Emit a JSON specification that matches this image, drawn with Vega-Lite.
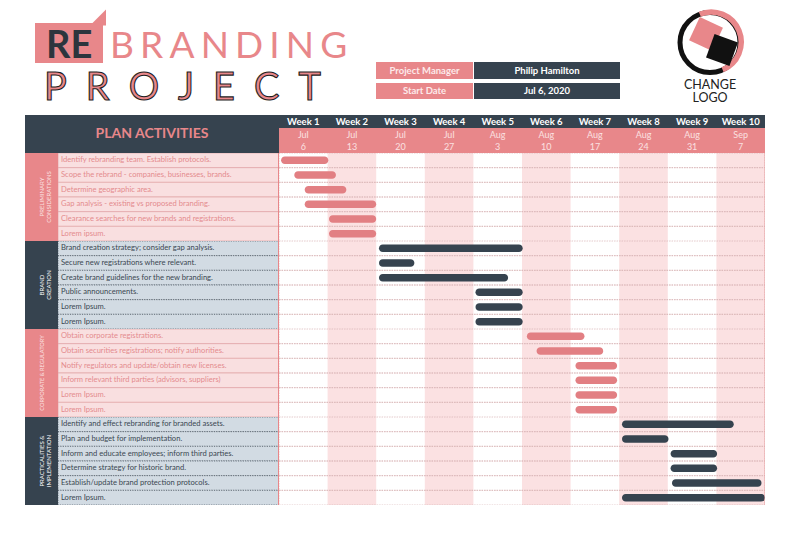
{
"$schema": "https://vega.github.io/schema/vega-lite/v6.json",
"padding": {"left": 25, "right": 25, "top": 0, "bottom": 0},
"background": "white",
"config": {"view": {"stroke": null}, "font": "Lato", "axis": {"disable": true}, "concat": {"spacing": 0}},
"datasets": {
 "tasks": [
  {"id": "01", "group": "PRELIMINARY CONSIDERATIONS", "task": "Identify rebranding team. Establish protocols.", "start": 0.3, "end": 7.1},
  {"id": "02", "group": "PRELIMINARY CONSIDERATIONS", "task": "Scope the rebrand - companies, businesses, brands.", "start": 2.2, "end": 8.2},
  {"id": "03", "group": "PRELIMINARY CONSIDERATIONS", "task": "Determine geographic area.", "start": 3.7, "end": 9.7},
  {"id": "04", "group": "PRELIMINARY CONSIDERATIONS", "task": "Gap analysis - existing vs proposed branding.", "start": 3.7, "end": 14.0},
  {"id": "05", "group": "PRELIMINARY CONSIDERATIONS", "task": "Clearance searches for new brands and registrations.", "start": 7.2, "end": 14.0},
  {"id": "06", "group": "PRELIMINARY CONSIDERATIONS", "task": "Lorem ipsum.", "start": 7.2, "end": 14.0},
  {"id": "07", "group": "BRAND CREATION", "task": "Brand creation strategy; consider gap analysis.", "start": 14.4, "end": 35.1},
  {"id": "08", "group": "BRAND CREATION", "task": "Secure new registrations where relevant.", "start": 14.4, "end": 19.5},
  {"id": "09", "group": "BRAND CREATION", "task": "Create brand guidelines for the new branding.", "start": 14.4, "end": 33.0},
  {"id": "10", "group": "BRAND CREATION", "task": "Public announcements.", "start": 28.3, "end": 35.1},
  {"id": "11", "group": "BRAND CREATION", "task": "Lorem Ipsum.", "start": 28.3, "end": 35.1},
  {"id": "12", "group": "BRAND CREATION", "task": "Lorem Ipsum.", "start": 28.3, "end": 35.1},
  {"id": "13", "group": "CORPORATE & REGULATORY", "task": "Obtain corporate registrations.", "start": 35.7, "end": 44.0},
  {"id": "14", "group": "CORPORATE & REGULATORY", "task": "Obtain securities registrations; notify authorities.", "start": 37.1, "end": 46.7},
  {"id": "15", "group": "CORPORATE & REGULATORY", "task": "Notify regulators and update/obtain new licenses.", "start": 42.7, "end": 48.7},
  {"id": "16", "group": "CORPORATE & REGULATORY", "task": "Inform relevant third parties (advisors, suppliers)", "start": 42.7, "end": 48.7},
  {"id": "17", "group": "CORPORATE & REGULATORY", "task": "Lorem Ipsum.", "start": 42.7, "end": 48.7},
  {"id": "18", "group": "CORPORATE & REGULATORY", "task": "Lorem Ipsum.", "start": 42.7, "end": 48.7},
  {"id": "19", "group": "PRACTICALITIES & IMPLEMENTATION", "task": "Identify and effect rebranding for branded assets.", "start": 49.4, "end": 65.5},
  {"id": "20", "group": "PRACTICALITIES & IMPLEMENTATION", "task": "Plan and budget for implementation.", "start": 49.4, "end": 56.1},
  {"id": "21", "group": "PRACTICALITIES & IMPLEMENTATION", "task": "Inform and educate employees; inform third parties.", "start": 56.4, "end": 63.1},
  {"id": "22", "group": "PRACTICALITIES & IMPLEMENTATION", "task": "Determine strategy for historic brand.", "start": 56.4, "end": 63.1},
  {"id": "23", "group": "PRACTICALITIES & IMPLEMENTATION", "task": "Establish/update brand protection protocols.", "start": 56.6, "end": 69.5},
  {"id": "24", "group": "PRACTICALITIES & IMPLEMENTATION", "task": "Lorem Ipsum.", "start": 49.4, "end": 70.0}
 ],
 "weeks": [
  {"n": 1, "week": "Week 1", "month": "Jul", "day": "6", "start": 0, "end": 7},
  {"n": 2, "week": "Week 2", "month": "Jul", "day": "13", "start": 7, "end": 14},
  {"n": 3, "week": "Week 3", "month": "Jul", "day": "20", "start": 14, "end": 21},
  {"n": 4, "week": "Week 4", "month": "Jul", "day": "27", "start": 21, "end": 28},
  {"n": 5, "week": "Week 5", "month": "Aug", "day": "3", "start": 28, "end": 35},
  {"n": 6, "week": "Week 6", "month": "Aug", "day": "10", "start": 35, "end": 42},
  {"n": 7, "week": "Week 7", "month": "Aug", "day": "17", "start": 42, "end": 49},
  {"n": 8, "week": "Week 8", "month": "Aug", "day": "24", "start": 49, "end": 56},
  {"n": 9, "week": "Week 9", "month": "Aug", "day": "31", "start": 56, "end": 63},
  {"n": 10, "week": "Week 10", "month": "Sep", "day": "7", "start": 63, "end": 70}
 ],
 "groups": [
  {"group": "PRELIMINARY CONSIDERATIONS", "label": "PRELIMINARY\nCONSIDERATIONS"},
  {"group": "BRAND CREATION", "label": "BRAND\nCREATION"},
  {"group": "CORPORATE & REGULATORY", "label": "CORPORATE & REGULATORY"},
  {"group": "PRACTICALITIES & IMPLEMENTATION", "label": "PRACTICALITIES &\nIMPLEMENTATION"}
 ]
},
"spacing": 0,
"vconcat": [
 {
  "width": 740, "height": 115,
  "data": {"values": [{}]},
  "layer": [
   {"mark": {"type": "rect", "fill": "#e8878a"},
    "encoding": {"x": {"datum": 10, "type": "quantitative", "axis": null, "scale": {"domain": [0, 740], "nice": false, "zero": false}}, "x2": {"datum": 78},
                 "y": {"datum": 23, "type": "quantitative", "axis": null, "scale": {"domain": [0, 115], "nice": false, "zero": false, "reverse": true}}, "y2": {"datum": 63}}},
   {"mark": {"type": "point", "shape": "M -1 1 L 1 -1 L 1 1 Z", "filled": true, "fill": "#e8878a", "size": 256, "opacity": 1, "strokeWidth": 0},
    "encoding": {"x": {"datum": 73, "type": "quantitative"}, "y": {"datum": 17.5, "type": "quantitative"}}},
   {"mark": {"type": "text", "text": "RE", "align": "left", "baseline": "alphabetic", "fontSize": 38, "fontWeight": "bold", "fill": "#2c353d", "font": "Lato"},
    "encoding": {"x": {"datum": 21, "type": "quantitative"}, "y": {"datum": 58, "type": "quantitative"}}},
   {"mark": {"type": "text", "text": "B\u2006R\u2006A\u2006N\u2006D\u2006I\u2006N\u2006G", "align": "left", "baseline": "alphabetic", "fontSize": 37, "fill": "#e8878a", "font": "Lato", "fontWeight": "normal"},
    "encoding": {"x": {"datum": 85, "type": "quantitative"}, "y": {"datum": 58, "type": "quantitative"}}},
   {"mark": {"type": "text", "text": "P\u2002R\u2002O\u2002J\u2002E\u2002C\u2002T", "align": "left", "baseline": "alphabetic", "fontSize": 38, "fill": "#e8878a", "stroke": "#1e1e1e", "strokeWidth": 1.1, "font": "Lato", "fontWeight": "normal"},
    "encoding": {"x": {"datum": 19, "type": "quantitative"}, "y": {"datum": 100, "type": "quantitative"}}},
   {"mark": {"type": "rect", "fill": "#e8878a"},
    "encoding": {"x": {"datum": 351, "type": "quantitative"}, "x2": {"datum": 448}, "y": {"datum": 62, "type": "quantitative"}, "y2": {"datum": 79}}},
   {"mark": {"type": "rect", "fill": "#e8878a"},
    "encoding": {"x": {"datum": 351, "type": "quantitative"}, "x2": {"datum": 448}, "y": {"datum": 83, "type": "quantitative"}, "y2": {"datum": 99}}},
   {"mark": {"type": "rect", "fill": "#36434f"},
    "encoding": {"x": {"datum": 449, "type": "quantitative"}, "x2": {"datum": 595}, "y": {"datum": 62, "type": "quantitative"}, "y2": {"datum": 79}}},
   {"mark": {"type": "rect", "fill": "#36434f"},
    "encoding": {"x": {"datum": 449, "type": "quantitative"}, "x2": {"datum": 595}, "y": {"datum": 83, "type": "quantitative"}, "y2": {"datum": 99}}},
   {"mark": {"type": "text", "text": "Project Manager", "fontSize": 9.5, "fontWeight": "bold", "fill": "#fdeaea"},
    "encoding": {"x": {"datum": 399.5, "type": "quantitative"}, "y": {"datum": 70.5, "type": "quantitative"}}},
   {"mark": {"type": "text", "text": "Start Date", "fontSize": 9.5, "fontWeight": "bold", "fill": "#fdeaea"},
    "encoding": {"x": {"datum": 399.5, "type": "quantitative"}, "y": {"datum": 91, "type": "quantitative"}}},
   {"mark": {"type": "text", "text": "Philip Hamilton", "fontSize": 9.5, "fontWeight": "bold", "fill": "#ffffff"},
    "encoding": {"x": {"datum": 522, "type": "quantitative"}, "y": {"datum": 70.5, "type": "quantitative"}}},
   {"mark": {"type": "text", "text": "Jul 6, 2020", "fontSize": 9.5, "fontWeight": "bold", "fill": "#ffffff"},
    "encoding": {"x": {"datum": 522, "type": "quantitative"}, "y": {"datum": 91, "type": "quantitative"}}},
   {"mark": {"type": "point", "shape": "circle", "filled": false, "stroke": "#111111", "strokeWidth": 5, "size": 3600, "opacity": 1},
    "encoding": {"x": {"datum": 685, "type": "quantitative"}, "y": {"datum": 42.5, "type": "quantitative"}}},
   {"mark": {"type": "point", "shape": "M -0.34 -0.94 A 1 1 0 0 1 0.42 0.91", "filled": false, "stroke": "#e8878a", "strokeWidth": 5.5, "size": 3600, "opacity": 1},
    "encoding": {"x": {"datum": 685, "type": "quantitative"}, "y": {"datum": 42.5, "type": "quantitative"}}},
   {"mark": {"type": "point", "shape": "square", "filled": true, "fill": "#e8878a", "size": 650, "angle": 25, "opacity": 1, "strokeWidth": 0},
    "encoding": {"x": {"datum": 681, "type": "quantitative"}, "y": {"datum": 34, "type": "quantitative"}}},
   {"mark": {"type": "point", "shape": "square", "filled": true, "fill": "#111111", "size": 620, "angle": 20, "opacity": 1, "strokeWidth": 0},
    "encoding": {"x": {"datum": 697, "type": "quantitative"}, "y": {"datum": 50, "type": "quantitative"}}},
   {"mark": {"type": "text", "text": "CHANGE", "fontSize": 12.5, "fill": "#222222"},
    "encoding": {"x": {"datum": 685, "type": "quantitative"}, "y": {"datum": 84.5, "type": "quantitative"}}},
   {"mark": {"type": "text", "text": "LOGO", "fontSize": 12.5, "fill": "#222222"},
    "encoding": {"x": {"datum": 685, "type": "quantitative"}, "y": {"datum": 98, "type": "quantitative"}}}
  ]
 },
 {
  "spacing": 0,
  "hconcat": [
   {"width": 254, "height": 38, "data": {"values": [{"title": "PLAN ACTIVITIES"}]},
    "layer": [
     {"mark": {"type": "rect", "fill": "#36434f"}, "encoding": {}},
     {"mark": {"type": "text", "fontSize": 14, "fontWeight": "bold", "fill": "#e8878a"}, "encoding": {"text": {"field": "title"}}}
    ]},
   {"spacing": 0,
    "vconcat": [
     {"width": 486, "height": 13, "data": {"name": "weeks"},
      "layer": [
       {"mark": {"type": "rect", "fill": "#36434f"}, "encoding": {}},
       {"mark": {"type": "text", "fontSize": 9.5, "fontWeight": "bold", "fill": "#ffffff"},
        "encoding": {"x": {"field": "week", "type": "ordinal", "sort": null, "axis": null, "scale": {"paddingInner": 0, "paddingOuter": 0}}, "text": {"field": "week"}}}
      ]},
     {"width": 486, "height": 25, "data": {"name": "weeks"},
      "layer": [
       {"mark": {"type": "rect", "fill": "#e8878a"}, "encoding": {}},
       {"mark": {"type": "text", "fontSize": 9, "fill": "#fbe1e1", "dy": -5.5},
        "encoding": {"x": {"field": "week", "type": "ordinal", "sort": null, "axis": null, "scale": {"paddingInner": 0, "paddingOuter": 0}}, "text": {"field": "month"}}},
       {"mark": {"type": "text", "fontSize": 9, "fill": "#fbe1e1", "dy": 6},
        "encoding": {"x": {"field": "week", "type": "ordinal", "sort": null, "axis": null, "scale": {"paddingInner": 0, "paddingOuter": 0}}, "text": {"field": "day"}}}
      ]}
    ]}
  ]
 },
 {
  "spacing": 0,
  "hconcat": [
   {"width": 33, "height": 88, "data": {"name": "groups"}, "transform": [{"filter": "datum.group == 'PRELIMINARY CONSIDERATIONS'"}],
    "layer": [
     {"mark": {"type": "rect", "fill": "#e8878a"}, "encoding": {}},
     {"mark": {"type": "text", "angle": 270, "fontSize": 6, "lineBreak": "\n", "lineHeight": 7, "fill": "#fbe1e1"}, "encoding": {"text": {"field": "label"}}}
    ]},
   {"width": 221, "height": 88, "data": {"name": "tasks"}, "transform": [{"filter": "datum.group == 'PRELIMINARY CONSIDERATIONS'"}],
    "layer": [
     {"mark": {"type": "rect", "fill": "#f9dfe0", "stroke": "#e3aaac", "strokeWidth": 0.8, "clip": true},
      "encoding": {"y": {"field": "id", "type": "ordinal", "sort": null, "axis": null, "scale": {"paddingInner": 0, "paddingOuter": 0}}}},
     {"mark": {"type": "text", "align": "left", "dx": 3, "fontSize": 7.6, "fill": "#e48b8e"},
      "encoding": {"y": {"field": "id", "type": "ordinal", "sort": null}, "x": {"datum": 0, "type": "quantitative", "axis": null, "scale": {"domain": [0, 1]}}, "text": {"field": "task"}}},
     {"mark": {"type": "rule", "stroke": "#e8878a", "strokeWidth": 1.2, "clip": true}, "encoding": {"x": {"datum": 1, "type": "quantitative"}}}
    ]},
   {"width": 486, "height": 88,
    "layer": [
     {"data": {"name": "weeks"}, "transform": [{"filter": "datum.n % 2 == 0"}],
      "mark": {"type": "rect", "fill": "#fbe1e2"},
      "encoding": {"x": {"field": "start", "type": "quantitative", "axis": null, "scale": {"domain": [0, 70], "nice": false, "zero": false}}, "x2": {"field": "end"}}},
     {"data": {"name": "tasks"}, "transform": [{"filter": "datum.group == 'PRELIMINARY CONSIDERATIONS'"}],
      "mark": {"type": "rect", "fill": "transparent", "stroke": "#d9b3b5", "strokeDash": [1.5, 1], "strokeWidth": 0.7, "clip": true},
      "encoding": {"y": {"field": "id", "type": "ordinal", "sort": null, "axis": null, "scale": {"paddingInner": 0, "paddingOuter": 0}}}},
     {"data": {"name": "tasks"}, "transform": [{"filter": "datum.group == 'PRELIMINARY CONSIDERATIONS'"}],
      "mark": {"type": "bar", "size": 7.5, "cornerRadius": 3.75, "fill": "#e27f83"},
      "encoding": {"x": {"field": "start", "type": "quantitative"}, "x2": {"field": "end"}, "y": {"field": "id", "type": "ordinal", "sort": null}}},
     {"mark": {"type": "rule", "stroke": "#e8a3a5", "strokeWidth": 1, "clip": true}, "data": {"values": [{}]}, "encoding": {"x": {"datum": 70, "type": "quantitative"}}}
    ]}
  ]
 },
 {
  "spacing": 0,
  "hconcat": [
   {"width": 33, "height": 88, "data": {"name": "groups"}, "transform": [{"filter": "datum.group == 'BRAND CREATION'"}],
    "layer": [
     {"mark": {"type": "rect", "fill": "#36434f"}, "encoding": {}},
     {"mark": {"type": "text", "angle": 270, "fontSize": 6, "lineBreak": "\n", "lineHeight": 7, "fill": "#ffffff"}, "encoding": {"text": {"field": "label"}}}
    ]},
   {"width": 221, "height": 88, "data": {"name": "tasks"}, "transform": [{"filter": "datum.group == 'BRAND CREATION'"}],
    "layer": [
     {"mark": {"type": "rect", "fill": "#d2dbe3", "stroke": "#4f5b66", "strokeDash": [1.2, 1.2], "strokeWidth": 0.8, "clip": true},
      "encoding": {"y": {"field": "id", "type": "ordinal", "sort": null, "axis": null, "scale": {"paddingInner": 0, "paddingOuter": 0}}}},
     {"mark": {"type": "text", "align": "left", "dx": 3, "fontSize": 7.6, "fill": "#3b4852"},
      "encoding": {"y": {"field": "id", "type": "ordinal", "sort": null}, "x": {"datum": 0, "type": "quantitative", "axis": null, "scale": {"domain": [0, 1]}}, "text": {"field": "task"}}},
     {"mark": {"type": "rule", "stroke": "#e8878a", "strokeWidth": 1.2, "clip": true}, "encoding": {"x": {"datum": 1, "type": "quantitative"}}}
    ]},
   {"width": 486, "height": 88,
    "layer": [
     {"data": {"name": "weeks"}, "transform": [{"filter": "datum.n % 2 == 0"}],
      "mark": {"type": "rect", "fill": "#fbe1e2"},
      "encoding": {"x": {"field": "start", "type": "quantitative", "axis": null, "scale": {"domain": [0, 70], "nice": false, "zero": false}}, "x2": {"field": "end"}}},
     {"data": {"name": "tasks"}, "transform": [{"filter": "datum.group == 'BRAND CREATION'"}],
      "mark": {"type": "rect", "fill": "transparent", "stroke": "#d9b3b5", "strokeDash": [1.5, 1], "strokeWidth": 0.7, "clip": true},
      "encoding": {"y": {"field": "id", "type": "ordinal", "sort": null, "axis": null, "scale": {"paddingInner": 0, "paddingOuter": 0}}}},
     {"data": {"name": "tasks"}, "transform": [{"filter": "datum.group == 'BRAND CREATION'"}],
      "mark": {"type": "bar", "size": 7.5, "cornerRadius": 3.75, "fill": "#36434f"},
      "encoding": {"x": {"field": "start", "type": "quantitative"}, "x2": {"field": "end"}, "y": {"field": "id", "type": "ordinal", "sort": null}}},
     {"mark": {"type": "rule", "stroke": "#e8a3a5", "strokeWidth": 1, "clip": true}, "data": {"values": [{}]}, "encoding": {"x": {"datum": 70, "type": "quantitative"}}}
    ]}
  ]
 },
 {
  "spacing": 0,
  "hconcat": [
   {"width": 33, "height": 88, "data": {"name": "groups"}, "transform": [{"filter": "datum.group == 'CORPORATE & REGULATORY'"}],
    "layer": [
     {"mark": {"type": "rect", "fill": "#e8878a"}, "encoding": {}},
     {"mark": {"type": "text", "angle": 270, "fontSize": 5.6, "lineBreak": "\n", "lineHeight": 7, "fill": "#fbe1e1"}, "encoding": {"text": {"field": "label"}}}
    ]},
   {"width": 221, "height": 88, "data": {"name": "tasks"}, "transform": [{"filter": "datum.group == 'CORPORATE & REGULATORY'"}],
    "layer": [
     {"mark": {"type": "rect", "fill": "#f9dfe0", "stroke": "#e3aaac", "strokeWidth": 0.8, "clip": true},
      "encoding": {"y": {"field": "id", "type": "ordinal", "sort": null, "axis": null, "scale": {"paddingInner": 0, "paddingOuter": 0}}}},
     {"mark": {"type": "text", "align": "left", "dx": 3, "fontSize": 7.6, "fill": "#e48b8e"},
      "encoding": {"y": {"field": "id", "type": "ordinal", "sort": null}, "x": {"datum": 0, "type": "quantitative", "axis": null, "scale": {"domain": [0, 1]}}, "text": {"field": "task"}}},
     {"mark": {"type": "rule", "stroke": "#e8878a", "strokeWidth": 1.2, "clip": true}, "encoding": {"x": {"datum": 1, "type": "quantitative"}}}
    ]},
   {"width": 486, "height": 88,
    "layer": [
     {"data": {"name": "weeks"}, "transform": [{"filter": "datum.n % 2 == 0"}],
      "mark": {"type": "rect", "fill": "#fbe1e2"},
      "encoding": {"x": {"field": "start", "type": "quantitative", "axis": null, "scale": {"domain": [0, 70], "nice": false, "zero": false}}, "x2": {"field": "end"}}},
     {"data": {"name": "tasks"}, "transform": [{"filter": "datum.group == 'CORPORATE & REGULATORY'"}],
      "mark": {"type": "rect", "fill": "transparent", "stroke": "#d9b3b5", "strokeDash": [1.5, 1], "strokeWidth": 0.7, "clip": true},
      "encoding": {"y": {"field": "id", "type": "ordinal", "sort": null, "axis": null, "scale": {"paddingInner": 0, "paddingOuter": 0}}}},
     {"data": {"name": "tasks"}, "transform": [{"filter": "datum.group == 'CORPORATE & REGULATORY'"}],
      "mark": {"type": "bar", "size": 7.5, "cornerRadius": 3.75, "fill": "#e27f83"},
      "encoding": {"x": {"field": "start", "type": "quantitative"}, "x2": {"field": "end"}, "y": {"field": "id", "type": "ordinal", "sort": null}}},
     {"mark": {"type": "rule", "stroke": "#e8a3a5", "strokeWidth": 1, "clip": true}, "data": {"values": [{}]}, "encoding": {"x": {"datum": 70, "type": "quantitative"}}}
    ]}
  ]
 },
 {
  "spacing": 0,
  "hconcat": [
   {"width": 33, "height": 88, "data": {"name": "groups"}, "transform": [{"filter": "datum.group == 'PRACTICALITIES & IMPLEMENTATION'"}],
    "layer": [
     {"mark": {"type": "rect", "fill": "#36434f"}, "encoding": {}},
     {"mark": {"type": "text", "angle": 270, "fontSize": 6, "lineBreak": "\n", "lineHeight": 7, "fill": "#ffffff"}, "encoding": {"text": {"field": "label"}}}
    ]},
   {"width": 221, "height": 88, "data": {"name": "tasks"}, "transform": [{"filter": "datum.group == 'PRACTICALITIES & IMPLEMENTATION'"}],
    "layer": [
     {"mark": {"type": "rect", "fill": "#d2dbe3", "stroke": "#4f5b66", "strokeDash": [1.2, 1.2], "strokeWidth": 0.8, "clip": true},
      "encoding": {"y": {"field": "id", "type": "ordinal", "sort": null, "axis": null, "scale": {"paddingInner": 0, "paddingOuter": 0}}}},
     {"mark": {"type": "text", "align": "left", "dx": 3, "fontSize": 7.6, "fill": "#3b4852"},
      "encoding": {"y": {"field": "id", "type": "ordinal", "sort": null}, "x": {"datum": 0, "type": "quantitative", "axis": null, "scale": {"domain": [0, 1]}}, "text": {"field": "task"}}},
     {"mark": {"type": "rule", "stroke": "#e8878a", "strokeWidth": 1.2, "clip": true}, "encoding": {"x": {"datum": 1, "type": "quantitative"}}}
    ]},
   {"width": 486, "height": 88,
    "layer": [
     {"data": {"name": "weeks"}, "transform": [{"filter": "datum.n % 2 == 0"}],
      "mark": {"type": "rect", "fill": "#fbe1e2"},
      "encoding": {"x": {"field": "start", "type": "quantitative", "axis": null, "scale": {"domain": [0, 70], "nice": false, "zero": false}}, "x2": {"field": "end"}}},
     {"data": {"name": "tasks"}, "transform": [{"filter": "datum.group == 'PRACTICALITIES & IMPLEMENTATION'"}],
      "mark": {"type": "rect", "fill": "transparent", "stroke": "#d9b3b5", "strokeDash": [1.5, 1], "strokeWidth": 0.7, "clip": true},
      "encoding": {"y": {"field": "id", "type": "ordinal", "sort": null, "axis": null, "scale": {"paddingInner": 0, "paddingOuter": 0}}}},
     {"data": {"name": "tasks"}, "transform": [{"filter": "datum.group == 'PRACTICALITIES & IMPLEMENTATION'"}],
      "mark": {"type": "bar", "size": 7.5, "cornerRadius": 3.75, "fill": "#36434f"},
      "encoding": {"x": {"field": "start", "type": "quantitative"}, "x2": {"field": "end"}, "y": {"field": "id", "type": "ordinal", "sort": null}}},
     {"mark": {"type": "rule", "stroke": "#e8a3a5", "strokeWidth": 1, "clip": true}, "data": {"values": [{}]}, "encoding": {"x": {"datum": 70, "type": "quantitative"}}}
    ]}
  ]
 }
]
}
